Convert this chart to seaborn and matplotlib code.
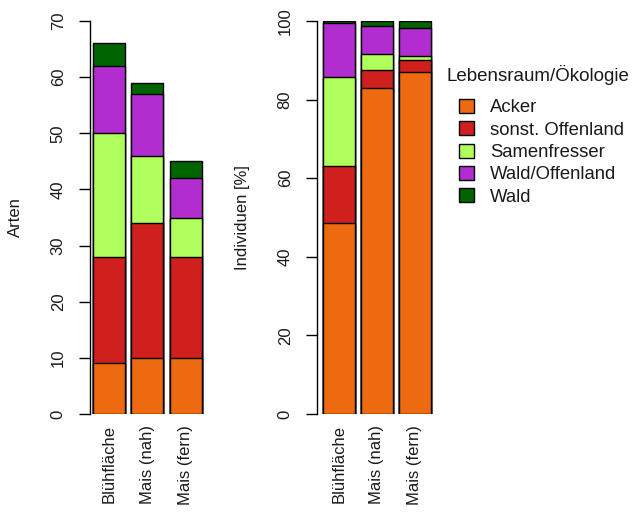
import numpy as np
import pandas as pd
import matplotlib
matplotlib.use('Agg')
import matplotlib.pyplot as plt
import seaborn as sns

# Data
sites = ['Blühfläche', 'Mais (nah)', 'Mais (fern)']
groups = ['Acker', 'sonst. Offenland', 'Samenfresser', 'Wald/Offenland', 'Wald']
colors = ['#EE6A10', '#D0201E', '#B0FF5C', '#B22DD0', '#006400']

# species counts (Arten)
arten_acker = [9, 10, 10]
arten_offen = [19, 24, 18]
arten_samen = [22, 12, 7]
arten_waldoffen = [12, 11, 7]
arten_wald = [4, 2, 3]

# individuals (%)
ind_acker = [48.7, 83.0, 87.0]
ind_offen = [14.3, 4.5, 3.0]
ind_samen = [22.7, 4.0, 1.0]
ind_waldoffen = [13.9, 7.3, 7.3]
ind_wald = [0.4, 1.2, 1.7]

arten = pd.DataFrame([arten_acker, arten_offen, arten_samen, arten_waldoffen, arten_wald],
                     index=groups, columns=sites)
indiv = pd.DataFrame([ind_acker, ind_offen, ind_samen, ind_waldoffen, ind_wald],
                     index=groups, columns=sites)

sns.set_style('white')
plt.rcParams['font.family'] = ['Liberation Sans', 'DejaVu Sans']
txt = '#1a1a1a'

fig = plt.figure(figsize=(6.36, 5.16), dpi=100)
ax1 = fig.add_axes([90 / 636, 102 / 516, 115 / 636, 393 / 516])
ax2 = fig.add_axes([317 / 636, 102 / 516, 117 / 636, 393 / 516])


def stacked(ax, df):
    cum = df.cumsum()
    # draw totals from top layer down so lower layers overlap
    for g, c in reversed(list(zip(groups, colors))):
        sns.barplot(x=sites, y=cum.loc[g].values, color=c, width=0.83,
                    edgecolor='black', linewidth=1.0, saturation=1, ax=ax)
    for s in ['top', 'right', 'bottom']:
        ax.spines[s].set_visible(False)
    ax.spines['left'].set_linewidth(1.0)
    ax.spines['left'].set_color('black')
    ax.tick_params(axis='y', length=8, width=1.0, labelsize=12, pad=9.5,
                   labelrotation=90, left=True, colors='black', labelcolor=txt)
    ax.tick_params(axis='x', length=0, labelsize=12, pad=8, labelrotation=90,
                   labelcolor=txt)
    for lab in ax.get_yticklabels():
        lab.set_va('center')


stacked(ax1, arten)
ax1.set_ylim(0, 70)
ax1.set_yticks(range(0, 71, 10))
ax1.spines['left'].set_bounds(0, 70)
ax1.set_xlim(-0.49, 2.5)
ax1.set_ylabel('Arten', fontsize=12, labelpad=20, color=txt)

stacked(ax2, indiv)
ax2.set_ylim(0, 100)
ax2.set_yticks(range(0, 101, 20))
ax2.spines['left'].set_bounds(0, 100)
ax2.set_xlim(-0.575, 2.5)
ax2.set_ylabel('Individuen [%]', fontsize=12, labelpad=20, color=txt)

fig.text(446 / 636, 1 - 75 / 516, 'Lebensraum/Ökologie', fontsize=13.5,
         ha='left', va='center', color=txt)
handles = [plt.Rectangle((0, 0), 1, 1, facecolor=c, edgecolor='black', linewidth=1.0)
           for c in colors]
leg = fig.legend(handles, groups, loc='upper left',
                 bbox_to_anchor=(459 / 636, 1 - 99 / 516), frameon=False,
                 fontsize=13.3, handlelength=0.8, handleheight=0.8,
                 handletextpad=0.9, labelspacing=0.26, borderpad=0,
                 borderaxespad=0, labelcolor=txt)

fig.savefig('out.png', dpi=100)
